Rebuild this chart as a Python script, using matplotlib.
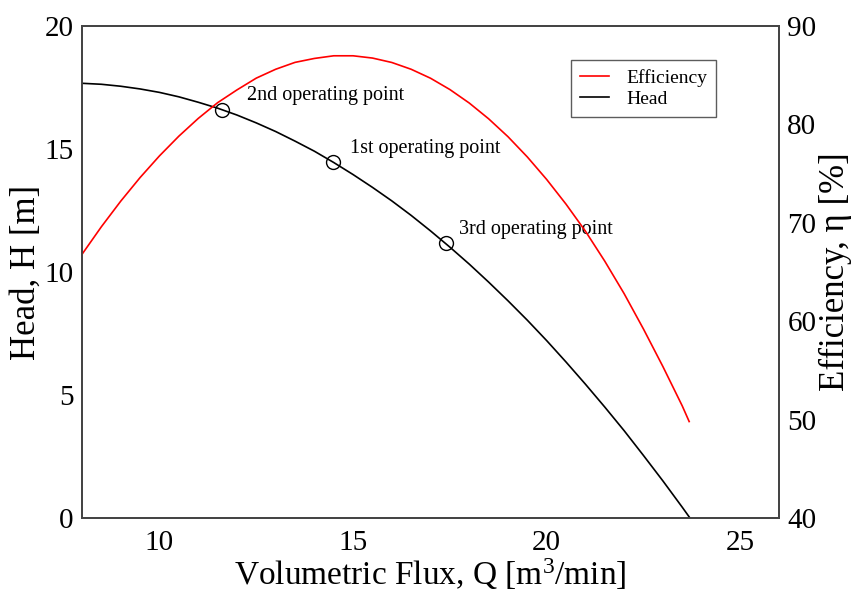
import matplotlib
matplotlib.use("Agg")
import matplotlib.pyplot as plt
from matplotlib.lines import Line2D

plt.rcParams['font.family'] = ['Liberation Serif', 'DejaVu Serif']
plt.rcParams['mathtext.fontset'] = 'custom'
plt.rcParams['mathtext.rm'] = 'Liberation Serif'
plt.rcParams['mathtext.it'] = 'Liberation Serif:italic'

# Data
q_head = [8, 8.5, 9, 9.5, 10, 10.5, 11, 11.5, 12, 12.5, 13, 13.5, 14, 14.5, 15, 15.5,
          16, 16.5, 17, 17.5, 18, 18.5, 19, 19.5, 20, 20.5, 21, 21.5, 22, 22.5, 23, 23.5, 23.7]
head = [17.67, 17.63, 17.55, 17.44, 17.30, 17.12, 16.90, 16.66, 16.38, 16.06, 15.71, 15.32,
        14.91, 14.45, 13.96, 13.44, 12.89, 12.30, 11.67, 11.01, 10.32, 9.59, 8.83, 8.04,
        7.21, 6.34, 5.44, 4.51, 3.55, 2.54, 1.51, 0.44, 0.0]

q_eff = [8, 8.5, 9, 9.5, 10, 10.5, 11, 11.5, 12, 12.5, 13, 13.5, 14, 14.5, 15, 15.5,
         16, 16.5, 17, 17.5, 18, 18.5, 19, 19.5, 20, 20.5, 21, 21.5, 22, 22.5, 23, 23.5, 23.68]
eff = [66.8, 69.6, 72.2, 74.6, 76.8, 78.8, 80.6, 82.2, 83.5, 84.7, 85.6, 86.3, 86.7, 86.97,
       86.97, 86.74, 86.29, 85.60, 84.69, 83.54, 82.17, 80.57, 78.75, 76.69, 74.40, 71.89,
       69.15, 66.1, 62.8, 59.2, 55.4, 51.4, 49.8]

op_q = [14.48, 11.62, 17.40]
op_h = [14.47, 16.59, 11.18]
op_labels = ["1st operating point", "2nd operating point", "3rd operating point"]
op_offsets = [(12, 9.5), (18, 10), (9.4, 9.5)]

x_ticks = [10, 15, 20, 25]
h_ticks = [0, 5, 10, 15, 20]
e_ticks = [40, 50, 60, 70, 80, 90]

fig = plt.figure(figsize=(8.51, 5.93), dpi=100)
ax = fig.add_axes([0.0964, 0.1265, 0.8190, 0.8297])
ax2 = ax.twinx()

ax.plot(q_head, head, color='black', lw=1.2, zorder=3)
ax.plot(op_q, op_h, linestyle='none', marker='o', markersize=10, markerfacecolor='none',
        markeredgecolor='black', markeredgewidth=1.0, zorder=4)
for q, h, lab, off in zip(op_q, op_h, op_labels, op_offsets):
    ax.annotate(lab, xy=(q, h), xytext=off, textcoords='offset points', fontsize=14.5,
                ha='left', va='center')

ax2.plot(q_eff, eff, color='red', lw=1.2)

ax.set_xlim(8, 26)
ax.set_ylim(0, 20)
ax2.set_ylim(40, 90)
ax.set_xticks(x_ticks)
ax.set_yticks(h_ticks)
ax2.set_yticks(e_ticks)

for a in (ax, ax2):
    a.tick_params(length=0, labelsize=21, pad=6)
    for s in a.spines.values():
        s.set_color('#444444')
        s.set_linewidth(1.3)
ax.tick_params(axis='x', pad=9)

ax.set_xlabel('Volumetric Flux, Q [m$^{3}$/min]', fontsize=24, labelpad=0)
ax.set_ylabel('Head, H [m]', fontsize=25, labelpad=1)
ax2.set_ylabel('Efficiency, η [%]', fontsize=25, labelpad=2)

handles = [Line2D([], [], color='red', lw=1.2), Line2D([], [], color='black', lw=1.2)]
leg = ax2.legend(handles, ['Efficiency', 'Head'], loc='upper left',
                 bbox_to_anchor=(0.7016, 0.931), borderaxespad=0, fontsize=14,
                 frameon=True, fancybox=False, edgecolor='#333333', handlelength=1.5,
                 handletextpad=0.9, borderpad=0.45, labelspacing=0.2)
leg.get_frame().set_linewidth(1.0)

fig.savefig('out.png', dpi=100)
